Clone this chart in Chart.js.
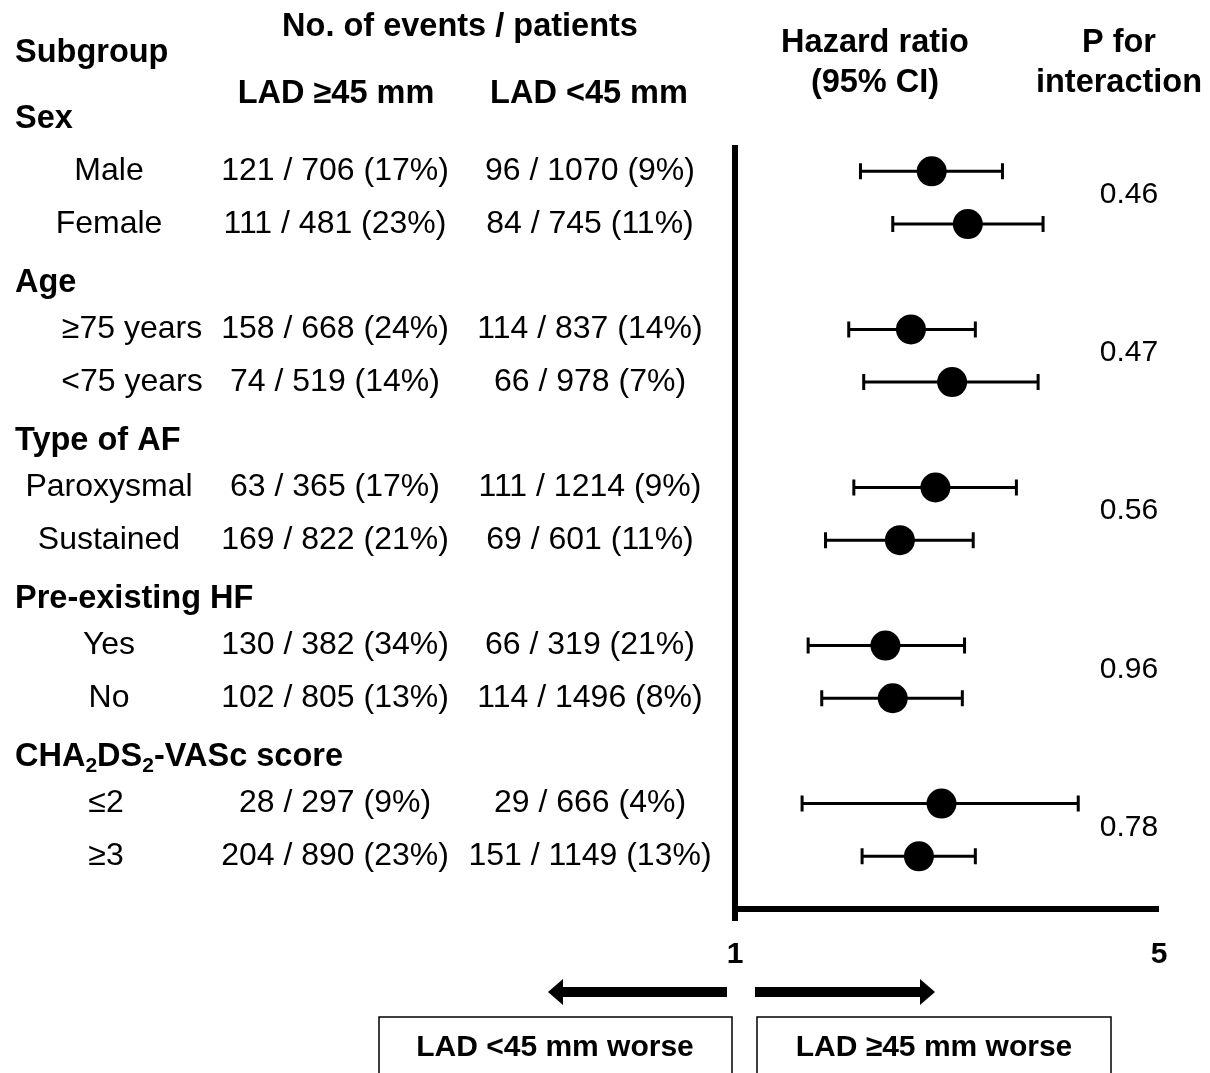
<!DOCTYPE html>
<html>
<head>
<meta charset="utf-8">
<script src="https://cdn.jsdelivr.net/npm/chart.js@4.4.1/dist/chart.umd.min.js"></script>
<style>
  html, body { margin: 0; padding: 0; background: #fff; }
  canvas { display: block; }
</style>
</head>
<body>
<canvas id="forest" width="1210" height="1073"></canvas>
<script>
// subgroup data
const groups = ["Sex", "Age", "Type of AF", "Pre-existing HF", "CHA2DS2-VASc score"];
const subgroups = ["Male", "Female", "≥75 years", "<75 years", "Paroxysmal", "Sustained", "Yes", "No", "≤2", "≥3"];
const ladHigh = ["121 / 706 (17%)", "111 / 481 (23%)", "158 / 668 (24%)", "74 / 519 (14%)", "63 / 365 (17%)",
                 "169 / 822 (21%)", "130 / 382 (34%)", "102 / 805 (13%)", "28 / 297 (9%)", "204 / 890 (23%)"];
const ladLow = ["96 / 1070 (9%)", "84 / 745 (11%)", "114 / 837 (14%)", "66 / 978 (7%)", "111 / 1214 (9%)",
                "69 / 601 (11%)", "66 / 319 (21%)", "114 / 1496 (8%)", "29 / 666 (4%)", "151 / 1149 (13%)"];
const hr = [2.11, 2.42, 1.95, 2.28, 2.14, 1.87, 1.77, 1.82, 2.19, 2.01];
const ciLow = [1.61, 1.82, 1.54, 1.63, 1.57, 1.41, 1.32, 1.39, 1.29, 1.62];
const ciHigh = [2.76, 3.22, 2.49, 3.16, 2.91, 2.47, 2.39, 2.37, 3.68, 2.49];
const pInteraction = ["0.46", "0.47", "0.56", "0.96", "0.78"];
const xTicks = [1, 5];

const FONT = "'Liberation Sans', Arial, Helvetica, sans-serif";
const HEAD = 32.5;

// each group takes 3 rows: header + two subgroups
function rowOf(i) { return Math.floor(i / 2) * 3 + 1 + (i % 2); }

// layout (pixels)
const labelX = [109, 109, 132, 132, 109, 109, 109, 109, 106, 106];
const colHighX = 335;
const colLowX = 590;
const pX = 1129;

function put(ctx, s, x, y, size, bold, align) {
  ctx.font = (bold ? "bold " : "") + size + "px " + FONT;
  ctx.textAlign = align || "center";
  ctx.textBaseline = "middle";
  ctx.fillStyle = "#000";
  ctx.fillText(s, x, y);
}

function arrow(ctx, xFrom, xTo, y) {
  const dir = Math.sign(xTo - xFrom);
  const head = 15;
  ctx.fillStyle = "#000";
  ctx.fillRect(Math.min(xFrom, xTo - dir * head), y - 5, Math.abs(xTo - xFrom) - head, 10);
  ctx.beginPath();
  ctx.moveTo(xTo, y);
  ctx.lineTo(xTo - dir * head, y - 13);
  ctx.lineTo(xTo - dir * head, y + 13);
  ctx.closePath();
  ctx.fill();
}

const forestDecor = {
  id: "forestDecor",
  beforeDatasetsDraw(chart) {
    const { ctx, scales: { x, y }, chartArea } = chart;
    ctx.save();
    // axes
    ctx.strokeStyle = "#000";
    ctx.lineWidth = 6;
    const x1 = x.getPixelForValue(1);
    ctx.beginPath();
    ctx.moveTo(x1, chartArea.top);
    ctx.lineTo(x1, chartArea.bottom + 12);
    ctx.stroke();
    ctx.beginPath();
    ctx.moveTo(x1 - 3, chartArea.bottom);
    ctx.lineTo(x.getPixelForValue(5), chartArea.bottom);
    ctx.stroke();
    // confidence intervals
    ctx.lineWidth = 3;
    hr.forEach((v, i) => {
      const py = y.getPixelForValue(rowOf(i));
      const lo = x.getPixelForValue(ciLow[i]);
      const hi = x.getPixelForValue(ciHigh[i]);
      ctx.beginPath();
      ctx.moveTo(lo, py); ctx.lineTo(hi, py);
      ctx.moveTo(lo, py - 8); ctx.lineTo(lo, py + 8);
      ctx.moveTo(hi, py - 8); ctx.lineTo(hi, py + 8);
      ctx.stroke();
    });
    ctx.restore();
  },
  afterDraw(chart) {
    const { ctx, scales: { x, y } } = chart;
    ctx.save();
    // column headers
    put(ctx, "Subgroup", 15, 53, HEAD, true, "left");
    put(ctx, "No. of events / patients", 460, 27, HEAD, true);
    put(ctx, "LAD ≥45 mm", 336, 94, HEAD, true);
    put(ctx, "LAD <45 mm", 589, 94, HEAD, true);
    put(ctx, "Hazard ratio", 875, 43, HEAD, true);
    put(ctx, "(95% CI)", 875, 83, HEAD, true);
    put(ctx, "P for", 1119, 43, HEAD, true);
    put(ctx, "interaction", 1119, 83, HEAD, true);

    // group headers
    groups.forEach((g, k) => {
      const gy = y.getPixelForValue(k * 3 + (k === 0 ? 0 : 0.12));
      if (g.startsWith("CHA2DS2")) {
        let cx = 15;
        const parts = [["CHA", false], ["2", true], ["DS", false], ["2", true], ["-VASc score", false]];
        parts.forEach(([s, sub]) => {
          const size = sub ? 21 : HEAD;
          put(ctx, s, cx, gy + (sub ? 9 : 0), size, true, "left");
          cx += ctx.measureText(s).width;
        });
      } else {
        put(ctx, g, 15, gy, HEAD, true, "left");
      }
    });

    // subgroup rows
    subgroups.forEach((s, i) => {
      const ry = y.getPixelForValue(rowOf(i));
      put(ctx, s, labelX[i], ry, 32, false);
      put(ctx, ladHigh[i], colHighX, ry, 32, false);
      put(ctx, ladLow[i], colLowX, ry, 32, false);
    });

    // p for interaction
    pInteraction.forEach((p, k) => {
      put(ctx, p, pX, y.getPixelForValue(k * 3 + 1.45), 30, false);
    });

    // direction arrows and boxes
    const x1 = x.getPixelForValue(1);
    arrow(ctx, x1 - 8, x1 - 187, 992);
    arrow(ctx, x1 + 20, x1 + 200, 992);
    ctx.strokeStyle = "#000";
    ctx.lineWidth = 1.5;
    ctx.strokeRect(379, 1017, 353, 80);
    ctx.strokeRect(757, 1017, 354, 80);
    put(ctx, "LAD <45 mm worse", 555, 1048, 30, true);
    put(ctx, "LAD ≥45 mm worse", 934, 1048, 30, true);
    ctx.restore();
  }
};

new Chart(document.getElementById("forest"), {
  type: "scatter",
  data: {
    datasets: [{
      data: hr.map((v, i) => ({ x: v, y: rowOf(i) })),
      backgroundColor: "#000",
      borderWidth: 0,
      pointRadius: 15,
      pointHoverRadius: 15,
    }],
  },
  options: {
    responsive: false,
    animation: false,
    layout: { padding: { left: 735, right: 51, top: 145, bottom: 80 } },
    plugins: {
      legend: { display: false },
      tooltip: { enabled: false },
    },
    scales: {
      x: {
        type: "logarithmic",
        min: 1,
        max: 5,
        afterBuildTicks: (axis) => { axis.ticks = xTicks.map((v) => ({ value: v })); },
        ticks: {
          padding: 20,
          color: "#000",
          font: { family: FONT, size: 30, weight: "bold" },
          callback: (v) => String(v),
          maxRotation: 0,
        },
        grid: { display: false },
        border: { display: false },
      },
      y: {
        type: "linear",
        min: 0.5,
        max: 15,
        reverse: true,
        display: false,
      },
    },
  },
  plugins: [forestDecor],
});
</script>
</body>
</html>
